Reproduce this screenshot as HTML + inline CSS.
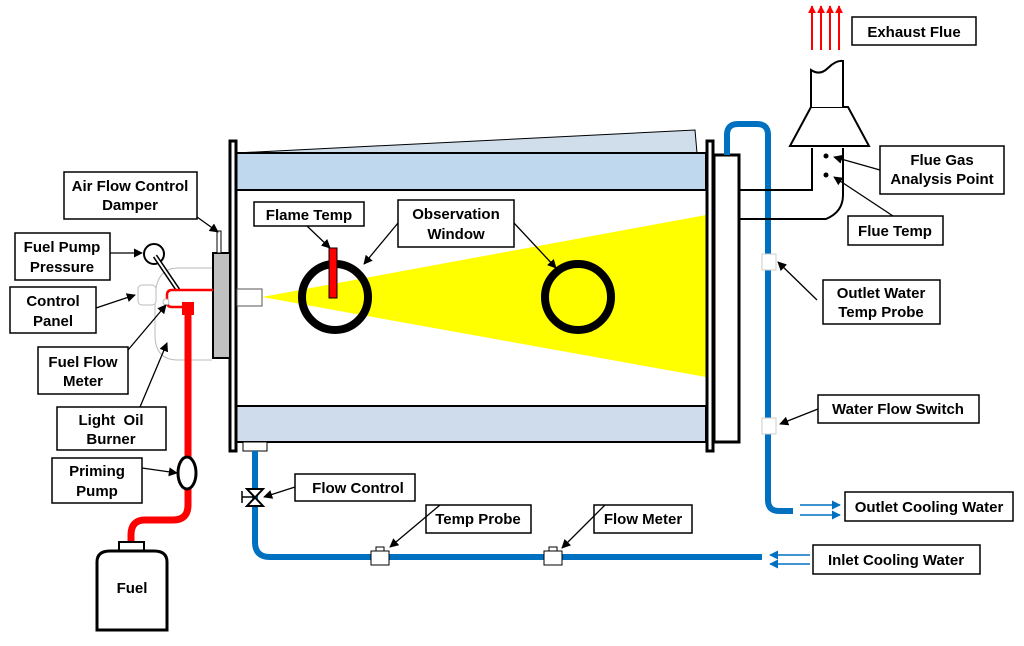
<!DOCTYPE html>
<html><head><meta charset="utf-8"><style>
body{margin:0;background:#fff}
svg text{font-family:"Liberation Sans",Arial,sans-serif;font-weight:bold;font-size:15px;fill:#000;text-anchor:middle}
</style></head><body>
<svg width="1024" height="641" viewBox="0 0 1024 641" xmlns="http://www.w3.org/2000/svg">
<defs>
<marker id="a" viewBox="0 0 10 10" refX="9" refY="5" markerWidth="7" markerHeight="7" orient="auto"><path d="M0,0L10,5L0,10z" fill="#000"/></marker>
<marker id="r" viewBox="0 0 10 10" refX="9" refY="5" markerWidth="4" markerHeight="4" orient="auto"><path d="M0,0L10,5L0,10z" fill="#f00"/></marker>
<marker id="b" viewBox="0 0 10 10" refX="9" refY="5" markerWidth="6" markerHeight="6" orient="auto"><path d="M0,0L10,5L0,10z" fill="#0070c0"/></marker>
</defs>
<polygon points="236,153 695,130 697,153" fill="#d0ddea" stroke="#000" stroke-width="1"/>
<rect x="236" y="153" width="470" height="37" fill="#c0d8ee" stroke="#000" stroke-width="2"/>
<rect x="236" y="406" width="470" height="36" fill="#cfdcec" stroke="#000" stroke-width="2"/>
<polygon points="262,297 706,215 706,377" fill="#ffff00"/>
<rect x="230" y="141" width="6" height="310" fill="#fff" stroke="#000" stroke-width="3"/>
<rect x="707" y="141" width="6" height="310" fill="#fff" stroke="#000" stroke-width="3"/>
<rect x="714" y="155" width="25" height="287" fill="#fff" stroke="#000" stroke-width="3"/>
<rect x="237" y="289" width="25" height="17" fill="#fff" stroke="#555" stroke-width="1"/>
<circle cx="335" cy="297" r="33" fill="none" stroke="#000" stroke-width="8"/>
<circle cx="578" cy="297" r="33" fill="none" stroke="#000" stroke-width="8"/>
<rect x="329" y="248" width="8" height="50" fill="#f00" stroke="#000" stroke-width="1"/>
<path d="M212,268 H178 Q155,268 155,300 V335 Q155,360 178,360 H212" fill="#fff" stroke="#bbb" stroke-width="1"/>
<rect x="138" y="285" width="18" height="20" rx="4" fill="#fff" stroke="#bbb"/>
<rect x="213" y="253" width="17" height="105" fill="#c0c0c0" stroke="#000" stroke-width="2"/>
<rect x="217" y="231" width="4" height="22" fill="#fff" stroke="#000" stroke-width="1"/>
<circle cx="154" cy="254" r="10" fill="#fff" stroke="#000" stroke-width="2"/>
<line x1="155" y1="256" x2="178" y2="290" stroke="#000" stroke-width="5"/>
<line x1="155" y1="256" x2="178" y2="290" stroke="#fff" stroke-width="2"/>
<path d="M213,290 H172 Q167,290 167,295 V302 Q167,307 172,307 H183" fill="none" stroke="#f00" stroke-width="2.5"/>
<circle cx="166" cy="302" r="3" fill="#fff" stroke="#bbb"/>
<rect x="182" y="302" width="12" height="13" fill="#f00"/>
<path d="M188,312 V505 Q188,520 173,520 H145 Q131,520 131,535 V543" fill="none" stroke="#f00" stroke-width="7"/>
<ellipse cx="187" cy="473" rx="9" ry="16" fill="#fff" stroke="#000" stroke-width="3"/>
<rect x="119" y="542" width="25" height="9" fill="#fff" stroke="#000" stroke-width="2"/>
<path d="M97,630 V562 Q97,551 110,551 H154 Q167,551 167,562 V630 Z" fill="#fff" stroke="#000" stroke-width="3"/>
<text x="132" y="593">Fuel</text>
<rect x="243" y="442" width="24" height="9" fill="#fff" stroke="#000" stroke-width="1"/>
<path d="M255,451 V542 Q255,557 270,557 H762" fill="none" stroke="#0070c0" stroke-width="6"/>
<path d="M247,489 H263 L247,506 H263 Z" fill="#fff" stroke="#000" stroke-width="2"/>
<line x1="242" y1="497" x2="255" y2="497" stroke="#000" stroke-width="1.5"/>
<line x1="242" y1="491" x2="242" y2="503" stroke="#000" stroke-width="1.5"/>
<rect x="371" y="551" width="18" height="14" fill="#fff" stroke="#000"/><rect x="376" y="547" width="8" height="4" fill="#fff" stroke="#000"/>
<rect x="544" y="551" width="18" height="14" fill="#fff" stroke="#000"/><rect x="549" y="547" width="8" height="4" fill="#fff" stroke="#000"/>
<path d="M727,155 V135 Q727,124 738,124 H757 Q768,124 768,135 V500 Q768,511 779,511 H793" fill="none" stroke="#0070c0" stroke-width="6"/>
<rect x="762" y="254" width="14" height="16" fill="#fff" stroke="#ccc"/>
<rect x="762" y="418" width="14" height="16" fill="#fff" stroke="#ccc"/>
<line x1="800" y1="505" x2="840" y2="505" stroke="#0070c0" stroke-width="1.5" marker-end="url(#b)"/>
<line x1="800" y1="515" x2="840" y2="515" stroke="#0070c0" stroke-width="1.5" marker-end="url(#b)"/>
<line x1="810" y1="555" x2="770" y2="555" stroke="#0070c0" stroke-width="1.5" marker-end="url(#b)"/>
<line x1="810" y1="564" x2="770" y2="564" stroke="#0070c0" stroke-width="1.5" marker-end="url(#b)"/>
<path d="M740,190 H812 V148" fill="none" stroke="#000" stroke-width="2"/>
<path d="M740,219 H826 Q843,212 843,195 V148" fill="none" stroke="#000" stroke-width="2"/>
<polygon points="790,146 869,146 848,107 811,107" fill="#fff" stroke="#000" stroke-width="2"/>
<path d="M811,107 V70 Q820,76 828,68 Q836,60 843,61 V107" fill="#fff" stroke="#000" stroke-width="2"/>
<circle cx="826" cy="156" r="2.5"/><circle cx="826" cy="175" r="2.5"/>
<g stroke="#f00" stroke-width="2" marker-end="url(#r)">
<line x1="812" y1="50" x2="812" y2="6"/><line x1="821" y1="50" x2="821" y2="6"/><line x1="830" y1="50" x2="830" y2="6"/><line x1="839" y1="50" x2="839" y2="6"/>
</g>
<g fill="#fff" stroke="#000" stroke-width="1.5">
<rect x="852" y="17" width="124" height="28"/>
<rect x="880" y="146" width="124" height="48"/>
<rect x="848" y="216" width="95" height="29"/>
<rect x="823" y="280" width="117" height="44"/>
<rect x="818" y="395" width="161" height="28"/>
<rect x="845" y="492" width="168" height="29"/>
<rect x="813" y="545" width="167" height="29"/>
<rect x="594" y="505" width="98" height="28"/>
<rect x="426" y="505" width="105" height="28"/>
<rect x="295" y="474" width="120" height="27"/>
<rect x="254" y="202" width="110" height="24"/>
<rect x="398" y="200" width="116" height="47"/>
<rect x="64" y="172" width="133" height="47"/>
<rect x="15" y="233" width="95" height="47"/>
<rect x="10" y="287" width="86" height="46"/>
<rect x="38" y="347" width="90" height="47"/>
<rect x="57" y="407" width="109" height="43"/>
<rect x="52" y="458" width="90" height="45"/>
</g>
<text x="914" y="37">Exhaust Flue</text>
<text x="942" y="165">Flue Gas</text><text x="942" y="184">Analysis Point</text>
<text x="895" y="236">Flue Temp</text>
<text x="881" y="298">Outlet Water</text><text x="881" y="317">Temp Probe</text>
<text x="898" y="414">Water Flow Switch</text>
<text x="929" y="512">Outlet Cooling Water</text>
<text x="896" y="565">Inlet Cooling Water</text>
<text x="643" y="524">Flow Meter</text>
<text x="478" y="524">Temp Probe</text>
<text x="358" y="493">Flow Control</text>
<text x="309" y="220">Flame Temp</text>
<text x="456" y="219">Observation</text><text x="456" y="239">Window</text>
<text x="130" y="191">Air Flow Control</text><text x="130" y="210">Damper</text>
<text x="62" y="252">Fuel Pump</text><text x="62" y="272">Pressure</text>
<text x="53" y="306">Control</text><text x="53" y="326">Panel</text>
<text x="83" y="367">Fuel Flow</text><text x="83" y="386">Meter</text>
<text x="111" y="425">Light&#160; Oil</text><text x="111" y="444">Burner</text>
<text x="97" y="476">Priming</text><text x="97" y="496">Pump</text>
<g stroke="#000" stroke-width="1.3" fill="none" marker-end="url(#a)">
<line x1="880" y1="170" x2="834" y2="157"/>
<line x1="893" y1="216" x2="834" y2="177"/>
<line x1="817" y1="300" x2="778" y2="262"/>
<line x1="818" y1="409" x2="780" y2="424"/>
<line x1="295" y1="487" x2="264" y2="497"/>
<line x1="440" y1="505" x2="390" y2="547"/>
<line x1="605" y1="505" x2="562" y2="548"/>
<line x1="307" y1="226" x2="330" y2="248"/>
<line x1="398" y1="223" x2="364" y2="264"/>
<line x1="514" y1="223" x2="556" y2="268"/>
<line x1="197" y1="217" x2="218" y2="232"/>
<line x1="110" y1="253" x2="142" y2="253"/>
<line x1="96" y1="308" x2="135" y2="295"/>
<line x1="128" y1="350" x2="166" y2="305"/>
<line x1="140" y1="407" x2="167" y2="343"/>
<line x1="142" y1="468" x2="177" y2="473"/>
</g>
</svg>
</body></html>
